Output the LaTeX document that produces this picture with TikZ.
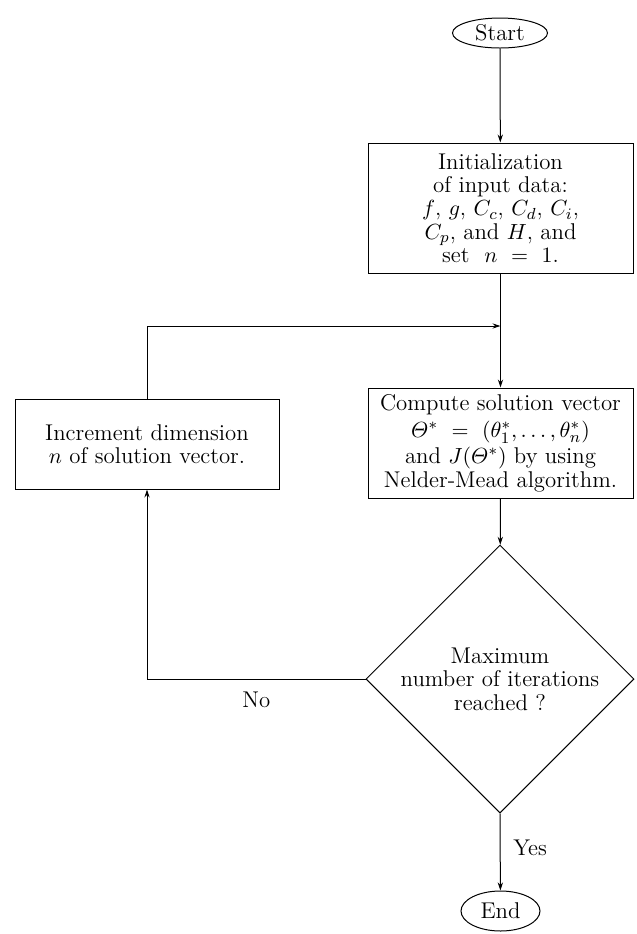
\documentclass[tikz,border=0pt]{standalone}
\usepackage{amsmath,amssymb}
\usepackage{tikz}
\usetikzlibrary{positioning,calc,shapes.geometric,arrows.meta}

\begin{document}
\begin{tikzpicture}[
    x=0.5pt,y=-0.5pt,
    every node/.style={font=\fontsize{11.4}{11.7}\selectfont},
    line/.style={draw=black,line width=0.5pt},
    flow/.style={line,-{Stealth[length=4pt,width=2.6pt]}},
    terminal/.style={ellipse,draw=black,line width=0.5pt,inner sep=0pt},
    process/.style={rectangle,draw=black,line width=0.5pt,align=center,
                    inner sep=2pt},
    decision/.style={diamond,draw=black,line width=0.5pt,align=center,
                     inner sep=0pt,minimum width=134pt,minimum height=134pt}
]
  \useasboundingbox (0,0) rectangle (637,934);

  % Main column of the flow chart.
  \node[terminal,minimum width=47.5pt,minimum height=15pt] (start) at (500,33) {Start};
  \node[process,minimum width=132.5pt,minimum height=65pt] (init) at (500.5,208)
    {Initialization\\ of input data:\\ $f$, $g$, $C_c$, $C_d$, $C_i$,\\
     $C_p$, and $H$, and\\ set~ $n ~=~ 1$.};
  \node[process,minimum width=132.5pt,minimum height=55pt] (comp) at (500.5,443)
    {Compute solution vector\\[1.6pt] $\varTheta^{*} ~=~ (\theta_1^{*},\ldots,\theta_n^{*})$\\[1.6pt]
     and $J(\varTheta^{*})$ by using\\ Nelder-Mead algorithm.};
  \node[decision] (dec) at (500,679)
    {Maximum\\ number of iterations\\ reached ?};
  \node[terminal,minimum width=39.5pt,minimum height=20pt] (end) at (500.5,911) {End};

  % Feedback branch on the left.
  \node[process,minimum width=132pt,minimum height=45pt] (incr) at (147,444)
    {Increment dimension\\ $n$ of solution vector.};

  \coordinate (join) at (500.5,326);

  % Connectors.
  \draw[flow] (start) -- (init);
  \draw[flow] (init) -- (comp);
  \draw[flow] (incr.north) |- (join);
  \draw[flow] (comp) -- (dec);
  \draw[flow] (dec.west) -| node[pos=0.25,below=3pt] {No} (incr.south);
  \draw[flow] (dec.south) -- node[right=3pt,pos=0.45] {Yes} (end);
\end{tikzpicture}
\end{document}
